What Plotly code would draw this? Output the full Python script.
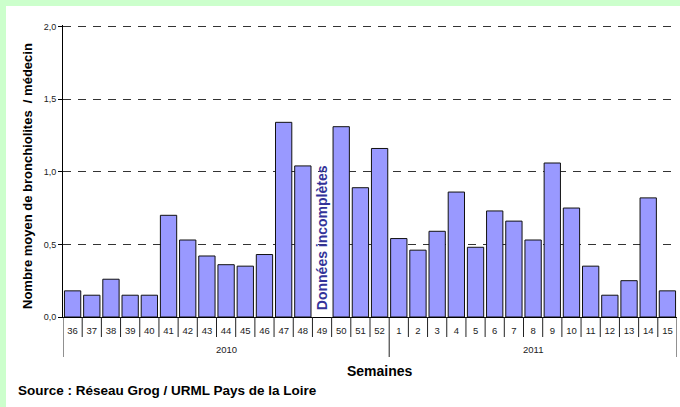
import plotly.graph_objects as go

weeks_2010 = ["36", "37", "38", "39", "40", "41", "42", "43", "44", "45", "46",
              "47", "48", "49", "50", "51", "52"]
weeks_2011 = ["1", "2", "3", "4", "5", "6", "7", "8", "9", "10", "11", "12",
              "13", "14", "15"]
values_2010 = [0.18, 0.15, 0.26, 0.15, 0.15, 0.70, 0.53, 0.42, 0.36, 0.35, 0.43,
               1.34, 1.04, None, 1.31, 0.89, 1.16]
values_2011 = [0.54, 0.46, 0.59, 0.86, 0.48, 0.73, 0.66, 0.53, 1.06, 0.75, 0.35,
               0.15, 0.25, 0.82, 0.18]
year_labels = ["2010", "2011"]
y_ticks = [0, 0.5, 1.0, 1.5, 2.0]

weeks = weeks_2010 + weeks_2011
values = values_2010 + values_2011

FONT = "Liberation Sans, Arial, sans-serif"

fig = go.Figure()
fig.add_trace(go.Bar(
    x=weeks, y=values,
    marker=dict(color="#9999FF", line=dict(color="#111111", width=1)),
    hoverinfo="skip",
))

L, R, T, B = 63, 3, 25, 90
W, H = 680, 407
pw, ph = W - L - R, H - T - B

def px_x(p):
    return (p - L) / pw

def px_y(p):
    return (H - B - p) / ph

# white inner panel over the green page
fig.add_shape(type="rect", xref="paper", yref="paper",
              x0=px_x(6), x1=px_x(W + 5), y0=px_y(6), y1=px_y(H + 5),
              fillcolor="white", line=dict(width=0), layer="below")

n10, n11 = len(weeks_2010), len(weeks_2011)
group_edges = [-0.5, n10 - 0.5, n10 + n11 - 0.5]

# short boundary ticks between week categories
for i in range(len(weeks) + 1):
    xb = i - 0.5
    if xb in group_edges:
        continue
    fig.add_shape(type="line", xref="x", yref="paper",
                  x0=xb, x1=xb, y0=0, y1=px_y(337),
                  line=dict(color="#222222", width=1))

# year group dividers and labels
for xb in group_edges:
    fig.add_shape(type="line", xref="x", yref="paper",
                  x0=xb, x1=xb, y0=0, y1=px_y(357),
                  line=dict(color="#222222", width=1))
group_centers = [(n10 - 1) / 2, n10 + (n11 - 1) / 2]
for xc, lab in zip(group_centers, year_labels):
    fig.add_annotation(x=xc, y=px_y(350), xref="x", yref="paper",
                       text=lab, showarrow=False,
                       xanchor="center", yanchor="middle",
                       font=dict(family=FONT, size=9.5, color="#222222"))

incomplete_index = weeks.index("49")
fig.add_annotation(x=incomplete_index, y=0.03, xref="x", yref="y",
                   text="<b>Données incomplètes</b>", textangle=-90,
                   showarrow=False, yanchor="bottom", xanchor="center",
                   font=dict(family=FONT, size=14, color="#333399"))

fig.add_annotation(x=px_x(27), y=px_y(176), xref="paper", yref="paper",
                   text="<b>Nombre moyen de bronchiolites &nbsp;/ médecin</b>",
                   textangle=-90, showarrow=False,
                   xanchor="center", yanchor="middle",
                   font=dict(family=FONT, size=13, color="#000000"))
fig.add_annotation(x=px_x(380), y=px_y(371), xref="paper", yref="paper",
                   text="<b>Semaines</b>", showarrow=False,
                   xanchor="center", yanchor="middle",
                   font=dict(family=FONT, size=14, color="#000000"))
fig.add_annotation(x=px_x(16), y=px_y(390), xref="paper", yref="paper",
                   text="<b>Source : Réseau Grog / URML Pays de la Loire</b>",
                   showarrow=False, xanchor="left", yanchor="middle",
                   font=dict(family=FONT, size=13.5, color="#000000"))

fig.update_layout(
    width=W, height=H,
    margin=dict(l=L, r=R, t=T, b=B),
    paper_bgcolor="#CCFFCC",
    plot_bgcolor="white",
    separators=", ",
    showlegend=False,
    bargap=0.15,
    font=dict(family=FONT, size=9, color="#222222"),
    xaxis=dict(
        type="category",
        range=[-0.5, len(weeks) - 0.5],
        ticks="",
        ticklabelstandoff=5,
        showline=True, linecolor="#000000", linewidth=1,
        showgrid=False,
        tickfont=dict(family=FONT, size=9.5, color="#222222"),
    ),
    yaxis=dict(
        range=[0, 2.01], tickvals=y_ticks, tickformat=".1f",
        ticks="outside", ticklen=4, tickcolor="#000000",
        showline=True, linecolor="#000000", linewidth=1,
        showgrid=True, gridcolor="#333333", gridwidth=1, griddash="8px,7px",
        zeroline=False,
        tickfont=dict(family=FONT, size=9, color="#222222"),
    ),
)

fig.write_html("out.html",
               config={"displayModeBar": False},
               post_script="document.body.style.margin='0';document.body.style.overflow='hidden';")
